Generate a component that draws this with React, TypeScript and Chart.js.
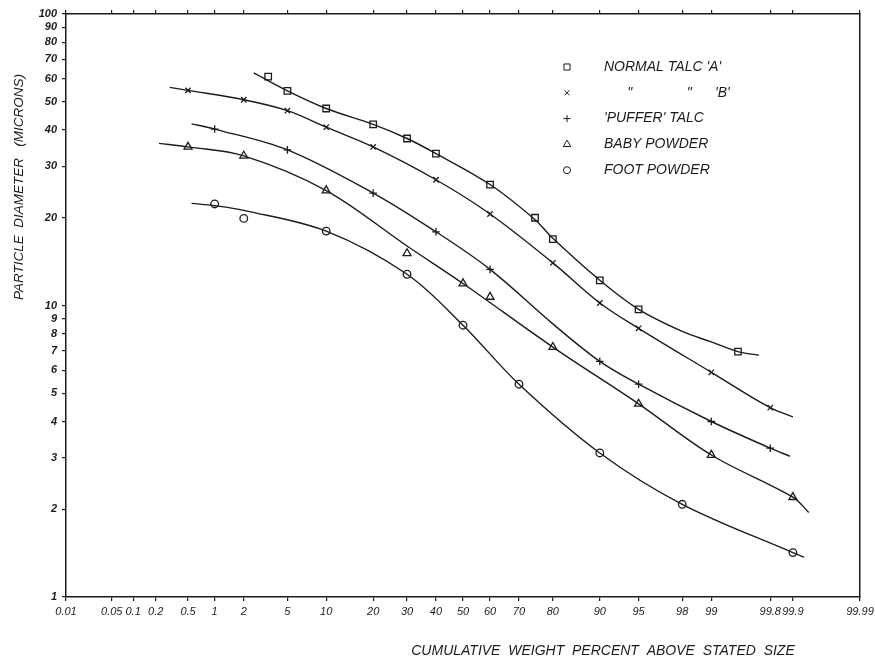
import React, { useEffect, useRef } from 'react';
import { Chart, Scale, registerables } from 'chart.js';
import { drawPoint } from 'chart.js/helpers';

Chart.register(...registerables);

// ---------- data (percent above stated size, diameter in microns) ----------
const X_TICKS = [0.01, 0.05, 0.1, 0.2, 0.5, 1, 2, 5, 10, 20, 30, 40, 50, 60, 70, 80, 90, 95, 98, 99, 99.8, 99.9, 99.99];
const X_TICK_LABELS = ['0.01', '0.05', '0.1', '0.2', '0.5', '1', '2', '5', '10', '20', '30', '40', '50', '60', '70', '80', '90', '95', '98', '99', '99.8', '99.9', '99.99'];
const Y_TICKS = [1, 2, 3, 4, 5, 6, 7, 8, 9, 10, 20, 30, 40, 50, 60, 70, 80, 90, 100];

// measured points (markers)
const TALC_A_X = [3.4, 5, 10, 20, 30, 40, 60, 75, 80, 90, 95, 99.5];
const TALC_A_Y = [61, 54.5, 47.4, 41.8, 37.4, 33.2, 26, 20, 16.9, 12.2, 9.7, 6.95];
const TALC_B_X = [0.5, 2, 5, 10, 20, 40, 60, 80, 90, 95, 99, 99.8];
const TALC_B_Y = [54.7, 50.8, 46.6, 40.9, 35, 27, 20.6, 14, 10.2, 8.35, 5.9, 4.46];
const PUFFER_X = [1, 5, 20, 40, 60, 90, 95, 99, 99.8];
const PUFFER_Y = [40.3, 34.2, 24.3, 17.9, 13.3, 6.43, 5.37, 4.0, 3.24];
const BABY_X = [0.5, 2, 10, 30, 50, 60, 80, 95, 99, 99.9];
const BABY_Y = [35, 32.6, 24.8, 15.1, 11.9, 10.7, 7.2, 4.6, 3.07, 2.2];
const FOOT_X = [1, 2, 10, 30, 50, 70, 90, 98, 99.9];
const FOOT_Y = [22.3, 19.9, 18.0, 12.8, 8.56, 5.37, 3.12, 2.08, 1.42];

// hand-drawn fitted curves
const TALC_A_CURVE_X = [2.5, 5, 10, 20, 30, 40, 60, 75, 80, 90, 95, 98, 99, 99.5, 99.72];
const TALC_A_CURVE_Y = [62.8, 54.5, 47.4, 41.8, 37.4, 33.2, 26, 19.7, 17.0, 12.2, 9.7, 8.15, 7.5, 6.95, 6.75];
const TALC_B_CURVE_X = [0.3, 0.5, 2, 5, 10, 20, 40, 60, 80, 90, 95, 99, 99.8, 99.9];
const TALC_B_CURVE_Y = [56, 54.7, 50.8, 46.6, 40.9, 35, 27, 20.6, 14, 10.2, 8.35, 5.9, 4.46, 4.15];
const PUFFER_CURVE_X = [0.55, 1, 5, 20, 40, 60, 80, 90, 95, 99, 99.8, 99.89];
const PUFFER_CURVE_Y = [42, 40.3, 34.2, 24.3, 17.9, 13.3, 8.65, 6.43, 5.37, 4.0, 3.24, 3.04];
const BABY_CURVE_X = [0.22, 0.5, 2, 10, 30, 50, 80, 95, 99, 99.9, 99.94];
const BABY_CURVE_Y = [36, 35, 32.6, 24.8, 16.0, 11.9, 7.2, 4.6, 3.07, 2.2, 1.95];
const FOOT_CURVE_X = [0.55, 1, 2, 10, 30, 50, 70, 90, 98, 99.9, 99.93];
const FOOT_CURVE_Y = [22.4, 22.0, 21.2, 18.0, 12.8, 8.56, 5.37, 3.12, 2.08, 1.42, 1.37];

const SERIES_NAMES = ["NORMAL TALC 'A'", "NORMAL TALC 'B'", "'PUFFER' TALC", 'BABY POWDER', 'FOOT POWDER'];
const LEGEND_TEXT = ["NORMAL TALC 'A'", '      "              "      \'B\'', "'PUFFER' TALC", 'BABY POWDER', 'FOOT POWDER'];
const X_TITLE = 'CUMULATIVE  WEIGHT  PERCENT  ABOVE  STATED  SIZE';
const Y_TITLE = 'PARTICLE  DIAMETER   (MICRONS)';

// ---------- styling ----------
const INK = '#1b1b1b';
const FONT = "'Liberation Sans', 'DejaVu Sans', sans-serif";
const MARKERS = [
  { style: 'rect', radius: 4.6 },
  { style: 'crossRot', radius: 3.8 },
  { style: 'cross', radius: 3.8 },
  { style: 'triangle', radius: 4.6 },
  { style: 'circle', radius: 3.8 },
];

// ---------- probability (probit) scale ----------
function probit(p: number): number {
  const a = [-3.969683028665376e1, 2.209460984245205e2, -2.759285104469687e2, 1.38357751867269e2, -3.066479806614716e1, 2.506628277459239];
  const b = [-5.447609879822406e1, 1.615858368580409e2, -1.556989798598866e2, 6.680131188771972e1, -1.328068155288572e1];
  const c = [-7.784894002430293e-3, -3.223964580411365e-1, -2.400758277161838, -2.549732539343734, 4.374664141464968, 2.938163982698783];
  const d = [7.784695709041462e-3, 3.224671290700398e-1, 2.445134137142996, 3.754408661907416];
  const pl = 0.02425;
  p = Math.min(Math.max(p, 1e-9), 1 - 1e-9);
  if (p < pl) {
    const q = Math.sqrt(-2 * Math.log(p));
    return (((((c[0] * q + c[1]) * q + c[2]) * q + c[3]) * q + c[4]) * q + c[5]) / ((((d[0] * q + d[1]) * q + d[2]) * q + d[3]) * q + 1);
  }
  if (p <= 1 - pl) {
    const q = p - 0.5;
    const r = q * q;
    return ((((((a[0] * r + a[1]) * r + a[2]) * r + a[3]) * r + a[4]) * r + a[5]) * q) / (((((b[0] * r + b[1]) * r + b[2]) * r + b[3]) * r + b[4]) * r + 1);
  }
  const q = Math.sqrt(-2 * Math.log(1 - p));
  return -(((((c[0] * q + c[1]) * q + c[2]) * q + c[3]) * q + c[4]) * q + c[5]) / ((((d[0] * q + d[1]) * q + d[2]) * q + d[3]) * q + 1);
}

function normCdf(z: number): number {
  const t = 1 / (1 + 0.3275911 * Math.abs(z) / Math.SQRT2);
  const y = 1 - (((((1.061405429 * t - 1.453152027) * t) + 1.421413741) * t - 0.284496736) * t + 0.254829592) * t * Math.exp(-(z * z) / 2);
  return z >= 0 ? 0.5 * (1 + y) : 0.5 * (1 - y);
}

class ProbitScale extends (Scale as any) {
  static id = 'probit';
  static defaults = {};
  _zmin: number = 0;
  _zmax: number = 1;
  determineDataLimits() {
    const mm = (this as any).getMinMax(false);
    const o = (this as any).options;
    (this as any).min = o.min != null ? o.min : mm.min;
    (this as any).max = o.max != null ? o.max : mm.max;
  }
  buildTicks() {
    return [];
  }
  getLabelForValue(v: number) {
    return String(v);
  }
  configure() {
    super.configure();
    this._zmin = probit((this as any).min / 100);
    this._zmax = probit((this as any).max / 100);
  }
  getPixelForValue(v: number) {
    if (v == null || isNaN(v)) return NaN;
    const z = probit(v / 100);
    return (this as any).getPixelForDecimal((z - this._zmin) / (this._zmax - this._zmin));
  }
  getValueForPixel(px: number) {
    const dec = (this as any).getDecimalForPixel(px);
    return normCdf(this._zmin + dec * (this._zmax - this._zmin)) * 100;
  }
}
Chart.register(ProbitScale as any);

const pts = (xs: number[], ys: number[]) => xs.map((x, i) => ({ x, y: ys[i] }));

const MARK_SETS = [
  [TALC_A_X, TALC_A_Y],
  [TALC_B_X, TALC_B_Y],
  [PUFFER_X, PUFFER_Y],
  [BABY_X, BABY_Y],
  [FOOT_X, FOOT_Y],
];
const CURVE_SETS = [
  [TALC_A_CURVE_X, TALC_A_CURVE_Y],
  [TALC_B_CURVE_X, TALC_B_CURVE_Y],
  [PUFFER_CURVE_X, PUFFER_CURVE_Y],
  [BABY_CURVE_X, BABY_CURVE_Y],
  [FOOT_CURVE_X, FOOT_CURVE_Y],
];

const handTextPlugin = {
  id: 'handText',
  afterDraw(chart: any) {
    const ctx = chart.ctx;
    const area = chart.chartArea;
    ctx.save();
    // legend inside plot
    const lx = area.left + 501;
    const tx = area.left + 538;
    LEGEND_TEXT.forEach((t, i) => {
      const y = area.top + 53 + i * 25.8;
      ctx.strokeStyle = INK;
      ctx.fillStyle = '#ffffff';
      drawPoint(ctx, { pointStyle: MARKERS[i].style, radius: MARKERS[i].radius - 0.3, borderWidth: 1.3, rotation: 0 } as any, lx, y);
      ctx.fillStyle = INK;
      ctx.font = `italic 14px ${FONT}`;
      ctx.textAlign = 'left';
      ctx.textBaseline = 'middle';
      ctx.fillText(t, tx, y);
    });
    // x axis title
    ctx.fillStyle = INK;
    ctx.font = `italic 14px ${FONT}`;
    ctx.textAlign = 'center';
    ctx.textBaseline = 'middle';
    ctx.fillText(X_TITLE, area.left + 537, area.bottom + 54);
    // y axis title
    ctx.translate(19, area.top + 173);
    ctx.rotate(-Math.PI / 2);
    ctx.font = `italic 13.5px ${FONT}`;
    ctx.fillText(Y_TITLE, 0, 0);
    ctx.restore();
  },
};

export default function App() {
  const ref = useRef<HTMLCanvasElement | null>(null);
  useEffect(() => {
    if (!ref.current) return;
    const datasets: any[] = [];
    CURVE_SETS.forEach(([xs, ys], i) => {
      datasets.push({
        label: SERIES_NAMES[i] + ' curve',
        data: pts(xs, ys),
        showLine: true,
        borderColor: INK,
        borderWidth: 1.4,
        pointRadius: 0,
        tension: 0.35,
        fill: false,
      });
    });
    MARK_SETS.forEach(([xs, ys], i) => {
      datasets.push({
        label: SERIES_NAMES[i],
        data: pts(xs, ys),
        showLine: false,
        pointStyle: MARKERS[i].style,
        pointRadius: MARKERS[i].radius,
        pointBorderWidth: 1.3,
        pointBorderColor: INK,
        pointBackgroundColor: '#ffffff',
      });
    });
    const tickGrid = { display: true, drawOnChartArea: false, drawTicks: true, tickLength: 4, color: INK, lineWidth: 1.2 };
    const chart = new Chart(ref.current, {
      type: 'scatter',
      data: { datasets },
      plugins: [handTextPlugin],
      options: {
        animation: false,
        responsive: false,
        events: [],
        layout: { padding: { top: 14, right: 15, left: 0, bottom: 0 } },
        plugins: { legend: { display: false }, tooltip: { enabled: false } },
        scales: {
          x: {
            type: 'probit',
            position: 'bottom',
            min: 0.01,
            max: 99.99,
            afterBuildTicks: (s: any) => { s.ticks = X_TICKS.map((v) => ({ value: v })); },
            afterFit: (s: any) => { s.height = 65; s.paddingLeft = 0; s.paddingRight = 0; },
            ticks: {
              autoSkip: false, maxRotation: 0, minRotation: 0, padding: 4, color: INK,
              font: { family: FONT, size: 11, style: 'italic' },
              callback: (v: any) => X_TICK_LABELS[X_TICKS.indexOf(Number(v))],
            },
            grid: tickGrid,
            border: { display: true, color: INK, width: 1.5 },
          },
          xTop: {
            type: 'probit',
            position: 'top',
            min: 0.01,
            max: 99.99,
            afterBuildTicks: (s: any) => { s.ticks = X_TICKS.map((v) => ({ value: v })); },
            afterFit: (s: any) => { s.height = 0; s.paddingLeft = 0; s.paddingRight = 0; },
            ticks: { display: false, autoSkip: false },
            grid: tickGrid,
            border: { display: true, color: INK, width: 1.5 },
          },
          y: {
            type: 'logarithmic',
            position: 'left',
            min: 1,
            max: 100,
            afterBuildTicks: (s: any) => { s.ticks = Y_TICKS.map((v) => ({ value: v })); },
            afterFit: (s: any) => { s.width = 66; s.paddingTop = 0; s.paddingBottom = 0; },
            ticks: {
              autoSkip: false, padding: 5, color: INK,
              font: { family: FONT, size: 11, style: 'italic', weight: 'bold' },
              callback: (v: any) => String(v),
            },
            grid: tickGrid,
            border: { display: true, color: INK, width: 1.5 },
          },
          yRight: {
            type: 'logarithmic',
            position: 'right',
            min: 1,
            max: 100,
            afterFit: (s: any) => { s.width = 0; s.paddingTop = 0; s.paddingBottom = 0; },
            ticks: { display: false },
            grid: { display: false },
            border: { display: true, color: INK, width: 1.5 },
          },
        },
      } as any,
    });
    return () => chart.destroy();
  }, []);
  return (
    <div style={{ position: 'fixed', left: 0, top: 0, width: 875, height: 662, background: '#ffffff' }}>
      <canvas ref={ref} width={875} height={662} style={{ display: 'block' }} />
    </div>
  );
}
